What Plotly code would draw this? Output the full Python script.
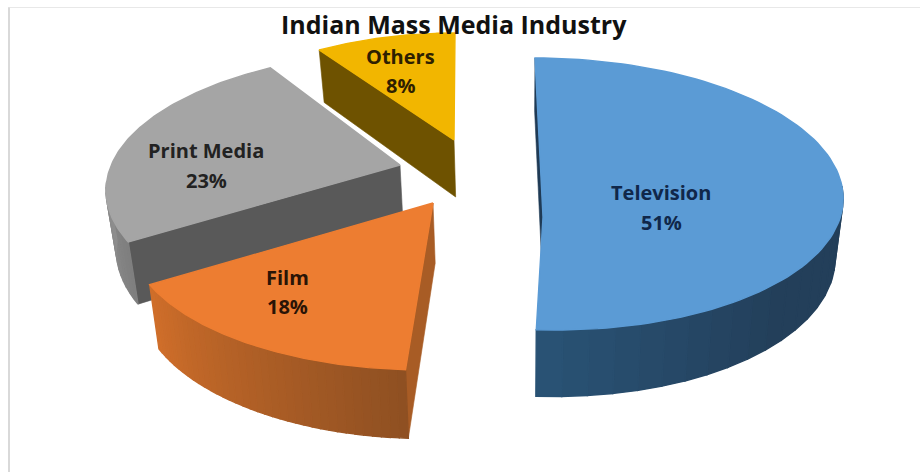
import numpy as np
import plotly.graph_objects as go

# Chart content
categories = ["Television", "Film", "Print Media", "Others"]
shares = [51, 18, 23, 8]
title_text = "Indian Mass Media Industry"

# Colours per slice: top face, lit end of the rim, shaded end of the rim, cut wall
top_colors = ["#5B9BD5", "#ED7D31", "#A5A5A5", "#F2B600"]
rim_from = ["#295274", "#CF6E2A", "#B0B0B0", "#6E5200"]
rim_to = ["#233F5A", "#8F5022", "#7F7F7F", "#6E5200"]
cut_colors = ["#1F3A55", "#A85C25", "#595959", "#6E5200"]

# Slice geometry on the 920x472 canvas (exploded wedges seen in perspective)
ellipse_x = [545, 424, 423, 455]
ellipse_y = [194, 235, 190.5, 170]
radius_x = [298, 295, 317, 282]
radius_y = [136, 135, 140, 137]
skew_x = [10, 0, 0, 0]
apex_x = [543, 433, 400, 454]
apex_y = [217, 203, 165, 140]

# Label anchors (name line, percent line share the same x)
label_x = [661, 287, 206, 400]
label_name_y = [192, 277, 150, 56]
label_pct_y = [222, 306, 180, 85]

draw_order = [0, 3, 2, 1]
BAND_COUNT = 36


def extrude(x, y):
    """Project a top-face point down to the bottom face of the slab."""
    x, y = np.asarray(x, float), np.asarray(y, float)
    return x - (x - 520) * 0.025, y + 60 + 0.05 * (y - 200)


def mix(c0, c1, t):
    a = [int(c0[i:i + 2], 16) for i in (1, 3, 5)]
    b = [int(c1[i:i + 2], 16) for i in (1, 3, 5)]
    return "rgb({},{},{})".format(*[round(p + (q - p) * t) for p, q in zip(a, b)])


def polygon(fig, xs, ys, color, edge=0.6):
    fig.add_trace(go.Scatter(
        x=list(xs) + [xs[0]], y=list(ys) + [ys[0]], mode="lines", fill="toself",
        fillcolor=color, line=dict(color=color, width=edge), hoverinfo="skip",
        showlegend=False,
    ))


fig = go.Figure()

edges = np.cumsum([0] + shares) / sum(shares) * 2 * np.pi

for i in draw_order:
    theta = np.linspace(edges[i], edges[i + 1], BAND_COUNT * 3 + 1)
    rim_x = ellipse_x[i] + radius_x[i] * np.sin(theta) - skew_x[i] * np.cos(theta)
    rim_y = ellipse_y[i] - radius_y[i] * np.cos(theta)
    low_x, low_y = extrude(rim_x, rim_y)
    ax, ay = apex_x[i], apex_y[i]
    lax, lay = extrude([ax], [ay])

    # Only the cut wall at the leading edge of each slice faces the viewer
    polygon(
        fig,
        [ax, rim_x[0], low_x[0], lax[0]],
        [ay, rim_y[0], low_y[0], lay[0]],
        cut_colors[i],
    )

    # Rim wall, shaded band by band; adjoining bands overlap so no seams show.
    # Bands on the far side of the pie are hidden by the top face, so they are skipped.
    for k in range(BAND_COUNT):
        seg = slice(k * 3, k * 3 + 4)
        if np.cos(theta[k * 3 + 1]) > 0.05:
            continue
        t = k / (BAND_COUNT - 1)
        if i == 0:
            color = mix(rim_to[i], rim_from[i], min(1, max(0, (t - 0.72) / 0.28)))
        else:
            color = mix(rim_to[i], rim_from[i], t)
        polygon(
            fig,
            [*rim_x[seg], *low_x[seg][::-1]],
            [*rim_y[seg], *low_y[seg][::-1]],
            color,
            edge=1.4,
        )

    # Top face, with a stroke wide enough to cover the rim bands' overlap
    polygon(fig, [ax, *rim_x], [ay, *rim_y], top_colors[i], edge=1.4)

annotations = [dict(
    x=454, y=24, xref="x", yref="y", text=f"<b>{title_text}</b>", showarrow=False,
    font=dict(family="Open Sans", size=25, color="#111111"),
)]
text_colors = ["#10274A", "#2A1406", "#222222", "#2E2000"]
for i, name in enumerate(categories):
    for line, y_pos in ((name, label_name_y[i]), (f"{shares[i]}%", label_pct_y[i])):
        annotations.append(dict(
            x=label_x[i], y=y_pos, xref="x", yref="y", text=f"<b>{line}</b>",
            showarrow=False, font=dict(family="Open Sans", size=20, color=text_colors[i]),
        ))

fig.update_layout(
    width=920, height=472, margin=dict(l=0, r=0, t=0, b=0),
    paper_bgcolor="white", plot_bgcolor="white", showlegend=False,
    xaxis=dict(range=[0, 920], visible=False, fixedrange=True),
    yaxis=dict(range=[472, 0], visible=False, fixedrange=True),
    annotations=annotations,
    shapes=[
        dict(type="line", xref="x", yref="y", x0=8, y0=7.5, x1=920, y1=7.5,
             line=dict(color="#E8E8E8", width=1), layer="below"),
        dict(type="line", xref="x", yref="y", x0=9, y0=7.5, x1=9, y1=472,
             line=dict(color="#D9D9D9", width=2), layer="below"),
    ],
)

fig.write_html("out.html", config={"displayModeBar": False})
